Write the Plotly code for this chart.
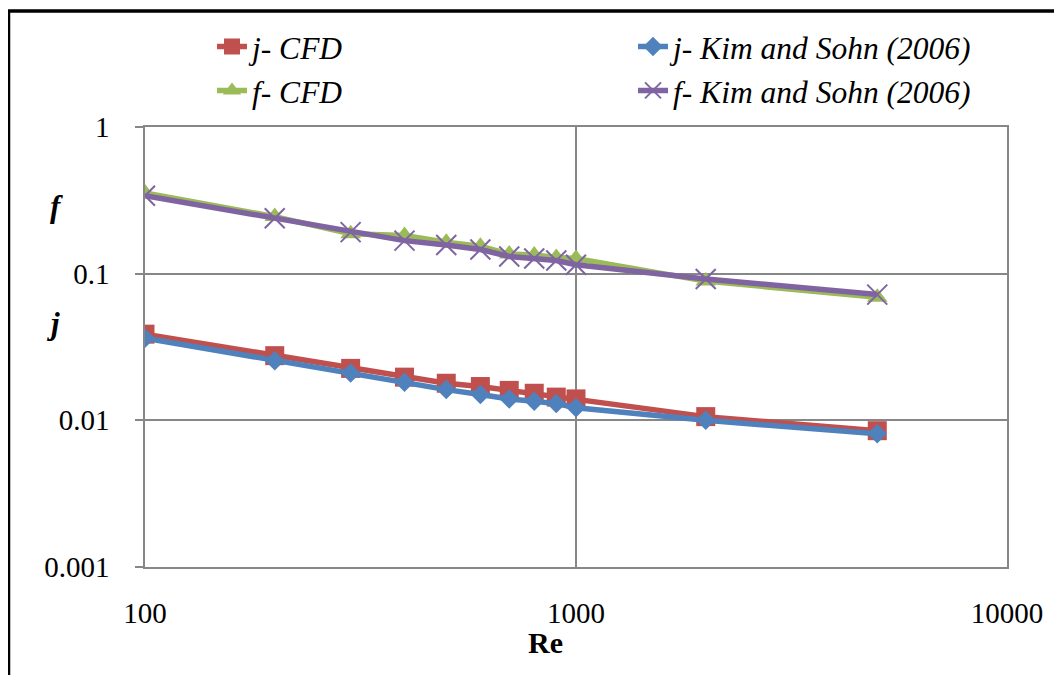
import plotly.graph_objects as go

re_vals = [100, 200, 300, 400, 500, 600, 700, 800, 900, 1000, 2000, 5000]
j_cfd = [0.0387, 0.0276, 0.0226, 0.0197, 0.0179, 0.0170, 0.0160, 0.0153, 0.0144, 0.0140, 0.0106, 0.0085]
j_kim = [0.0363, 0.0255, 0.0210, 0.0182, 0.0162, 0.0150, 0.0140, 0.0135, 0.0130, 0.0122, 0.0100, 0.0081]
f_cfd = [0.355, 0.245, 0.187, 0.182, 0.164, 0.154, 0.136, 0.134, 0.129, 0.127, 0.089, 0.069]
f_kim = [0.340, 0.239, 0.192, 0.168, 0.157, 0.146, 0.131, 0.127, 0.123, 0.115, 0.092, 0.072]

x_tickvals = [100, 1000, 10000]
x_ticktext = ["100", "1000", "10000"]
y_tickvals = [0.001, 0.01, 0.1, 1]
y_ticktext = ["0.001", "0.01", "0.1", "1"]

FONT = "Liberation Serif, Times New Roman, serif"
GRID = "#878787"

fig = go.Figure()

fig.add_trace(go.Scatter(
    x=re_vals, y=j_cfd, name="<i>j- CFD</i>", mode="lines+markers",
    line=dict(color="#C0504D", width=5.5),
    marker=dict(symbol="square", size=19, color="#C0504D"),
    legend="legend",
))
fig.add_trace(go.Scatter(
    x=re_vals, y=j_kim, name="<i>j- Kim and Sohn (2006)</i>", mode="lines+markers",
    line=dict(color="#4F81BD", width=5.5),
    marker=dict(symbol="diamond", size=15, color="#4F81BD"),
    legend="legend2",
))
fig.add_trace(go.Scatter(
    x=re_vals, y=f_cfd, name="<i>f- CFD</i>", mode="lines+markers",
    line=dict(color="#9BBB59", width=5.5),
    marker=dict(symbol="triangle-up", size=18, color="#9BBB59"),
    legend="legend",
))
fig.add_trace(go.Scatter(
    x=re_vals, y=f_kim, name="<i>f- Kim and Sohn (2006)</i>", mode="lines+markers",
    line=dict(color="#8064A2", width=5.5),
    marker=dict(symbol="x-thin", size=20, color="#8064A2",
                line=dict(color="#8064A2", width=2)),
    legend="legend2",
))

# page body has an 8px margin; work in screen pixels
OFF = 8
W, H = 1062 - OFF, 675 - OFF
PL, PR, PT, PB = 145, 1007, 125, 567          # plot area on screen
L, T = PL - OFF, PT - OFF
R = W - (PR - OFF)
B = H - (PB - OFF)
pw, ph = PR - PL, PB - PT

def px_x(px):
    return (px - PL) / pw

def px_y(py):
    return (PB - py) / ph

LEG_FONT = dict(family=FONT, size=31.5)

fig.update_layout(
    width=W, height=H,
    margin=dict(l=L, r=R, t=T, b=B),
    paper_bgcolor="white", plot_bgcolor="white",
    font=dict(family=FONT, size=29, color="black"),
    showlegend=True,
    legend=dict(x=px_x(212), y=px_y(17), xanchor="left", yanchor="top",
                font=LEG_FONT, tracegroupgap=0, bgcolor="rgba(0,0,0,0)"),
    legend2=dict(x=px_x(633), y=px_y(17), xanchor="left", yanchor="top",
                 font=LEG_FONT, tracegroupgap=0, bgcolor="rgba(0,0,0,0)"),
    xaxis=dict(type="log", range=[2, 4], tickvals=x_tickvals, ticktext=x_ticktext,
               showgrid=True, gridcolor=GRID, gridwidth=1.5,
               showline=True, linecolor=GRID, linewidth=1.5, mirror=True,
               ticks="", ticklabelstandoff=19, zeroline=False,
               tickfont=dict(family=FONT, size=29)),
    yaxis=dict(type="log", range=[-3, 0], tickvals=y_tickvals, ticktext=y_ticktext,
               showgrid=True, gridcolor=GRID, gridwidth=1.5,
               showline=True, linecolor=GRID, linewidth=1.5, mirror=True,
               ticks="outside", ticklen=8, tickcolor=GRID, tickwidth=1.5,
               ticklabelstandoff=20, zeroline=False,
               tickfont=dict(family=FONT, size=29)),
    annotations=[
        dict(text="<b>Re</b>", x=px_x(545), y=px_y(643), xref="paper", yref="paper",
             xanchor="center", yanchor="middle",
             showarrow=False, font=dict(family=FONT, size=30)),
        dict(text="<b><i>f</i></b>", x=px_x(56), y=px_y(205), xref="paper", yref="paper",
             xanchor="center", yanchor="middle",
             showarrow=False, font=dict(family=FONT, size=31)),
        dict(text="<b><i>j</i></b>", x=px_x(53), y=px_y(322), xref="paper", yref="paper",
             xanchor="center", yanchor="middle",
             showarrow=False, font=dict(family=FONT, size=31)),
    ],
    shapes=[
        dict(type="path", xref="paper", yref="paper",
             path=f"M {px_x(8.5)},{px_y(700)} L {px_x(8.5)},{px_y(8.5)} L {px_x(1100)},{px_y(8.5)}",
             line=dict(color="black", width=3.5)),
    ],
)

fig.write_html("out.html")
